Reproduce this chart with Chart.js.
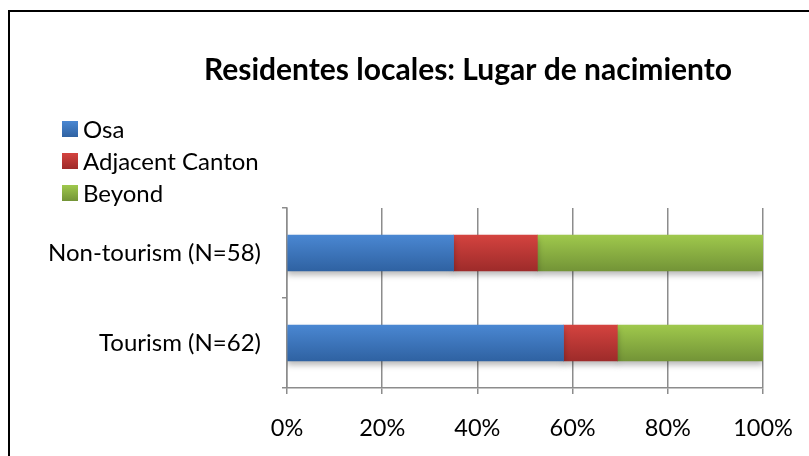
<!DOCTYPE html>
<html>
<head>
<meta charset="utf-8">
<script src="https://cdn.jsdelivr.net/npm/chart.js@4"></script>
<style>
  html, body { margin: 0; padding: 0; background: #fff; overflow: hidden; }
  #box { position: absolute; left: 8px; top: 10px; width: 820px; height: 460px; border: 2px solid #000; }
</style>
</head>
<body>
<div id="box"><canvas id="chart" width="820" height="460"></canvas></div>
<script>
var title = 'Residentes locales: Lugar de nacimiento';
var categories = ['Non-tourism (N=58)', 'Tourism (N=62)'];
var osa = [35.0, 58.1];
var adjacent = [17.6, 11.3];
var beyond = [47.4, 30.6];
var xTicks = [0, 20, 40, 60, 80, 100];

var FONT = 'Lato, "Open Sans", sans-serif';
var GRID = '#8c8c8c';

function grad(top, bottom) {
	return function(c) {
		var ch = c.chart, y = ch.scales.y;
		if (!y || c.dataIndex === undefined) return top;
		var cy = y.getPixelForValue(c.dataIndex);
		if (!isFinite(cy)) return top;
		var g = ch.ctx.createLinearGradient(0, cy - 18, 0, cy + 18);
		g.addColorStop(0, top);
		g.addColorStop(1, bottom);
		return g;
	};
}

var series = [
	{ label: 'Osa', data: osa, top: '#4a87d2', bottom: '#2f62a2' },
	{ label: 'Adjacent Canton', data: adjacent, top: '#d4433f', bottom: '#9e2b2a' },
	{ label: 'Beyond', data: beyond, top: '#9fc84c', bottom: '#739437' }
];

// bar shadow
var shadow = {
	id: 'shadow',
	beforeDatasetsDraw: function(chart) {
		var ctx = chart.ctx;
		ctx.save();
		ctx.shadowColor = 'rgba(0,0,0,0.28)';
		ctx.shadowBlur = 6;
		ctx.shadowOffsetY = 4;
	},
	afterDatasetsDraw: function(chart) {
		chart.ctx.restore();
	}
};

// title + vertical legend list at top left
var header = {
	id: 'header',
	afterDraw: function(chart) {
		var ctx = chart.ctx;
		ctx.save();
		ctx.fillStyle = '#000';
		ctx.font = 'bold 30px ' + FONT;
		ctx.textAlign = 'center';
		ctx.textBaseline = 'middle';
		ctx.fillText(title, 458, 58);

		ctx.font = '24px ' + FONT;
		ctx.textAlign = 'left';
		series.forEach(function(s, i) {
			var y = 117 + i * 32;
			var g = ctx.createLinearGradient(0, y - 8, 0, y + 8);
			g.addColorStop(0, s.top);
			g.addColorStop(1, s.bottom);
			ctx.fillStyle = g;
			ctx.fillRect(52, y - 8, 16, 16);
			ctx.fillStyle = '#000';
			ctx.fillText(s.label, 73, y + 1);
		});
		ctx.restore();
	}
};

var canvas = document.getElementById('chart').getContext('2d');
window.bar = new Chart(canvas, {
	type: 'bar',
	data: {
		labels: categories,
		datasets: series.map(function(s) {
			return {
				label: s.label,
				data: s.data,
				backgroundColor: grad(s.top, s.bottom),
				borderWidth: 0,
				barThickness: 36
			};
		})
	},
	options: {
		indexAxis: 'y',
		responsive: false,
		animation: false,
		layout: { padding: { left: 0, right: 67, top: 196, bottom: 24 } },
		plugins: {
			legend: { display: false },
			tooltip: { enabled: false },
			title: { display: false }
		},
		scales: {
			x: {
				stacked: true,
				min: 0,
				max: 100,
				afterBuildTicks: function(s) { s.ticks = xTicks.map(function(v) { return { value: v }; }); },
				afterFit: function(s) { s.height = 60; },
				grid: { color: GRID, lineWidth: 1.5, tickLength: 6 },
				border: { color: GRID, width: 1.5 },
				ticks: {
					color: '#000',
					padding: 20,
					font: { family: FONT, size: 23.5 },
					callback: function(v) { return v + '%'; }
				}
			},
			y: {
				stacked: true,
				afterFit: function(s) { s.width = 277; },
				grid: { color: GRID, lineWidth: 1.5, drawOnChartArea: false, tickLength: 5 },
				border: { color: GRID, width: 1.5 },
				ticks: {
					color: '#000',
					padding: 21,
					font: { family: FONT, size: 24 }
				}
			}
		}
	},
	plugins: [shadow, header]
});
</script>
</body>
</html>
